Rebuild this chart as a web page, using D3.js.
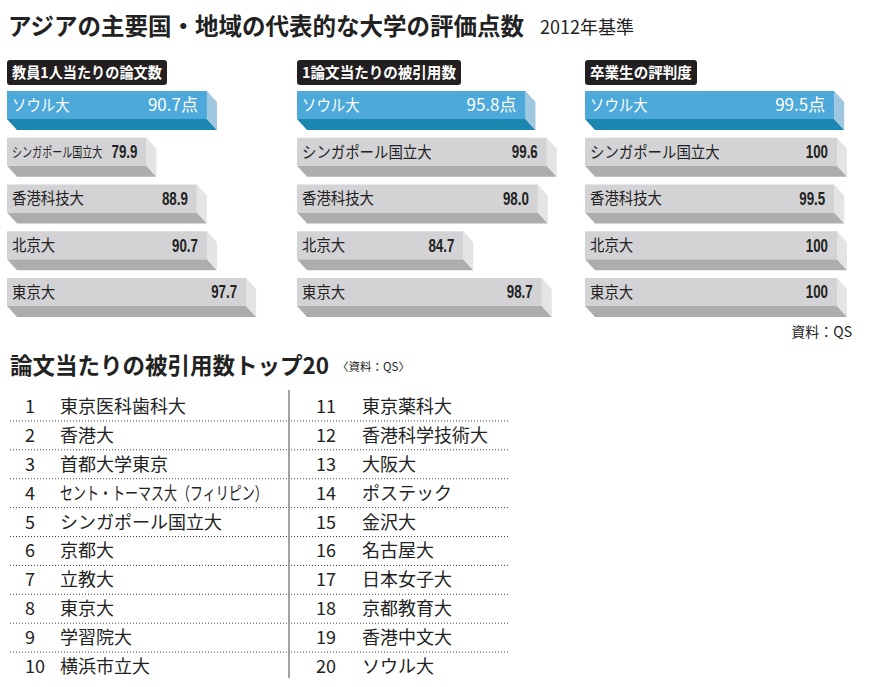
<!DOCTYPE html>
<html>
<head>
<meta charset="utf-8">
<script src="https://cdn.jsdelivr.net/npm/d3@7"></script>
<style>
  body { margin: 0; background: #fff; }
  svg { display: block; }
  text { font-family: "Noto Sans CJK JP", "Noto Sans", sans-serif; }
</style>
</head>
<body>
<svg id="chart" width="870" height="687"></svg>
<script>
// data
var universities = ['ソウル大', 'シンガポール国立大', '香港科技大', '北京大', '東京大'];
var papersPerFaculty = [90.7, 79.9, 88.9, 90.7, 97.7];
var citationsPerPaper = [95.8, 99.6, 98.0, 84.7, 98.7];
var employerReputation = [99.5, 100, 99.5, 100, 100];
var panelTitles = ['教員1人当たりの論文数', '1論文当たりの被引用数', '卒業生の評判度'];

var top20Ranks = [1, 2, 3, 4, 5, 6, 7, 8, 9, 10, 11, 12, 13, 14, 15, 16, 17, 18, 19, 20];
var top20Names = ['東京医科歯科大', '香港大', '首都大学東京', 'セント・トーマス大（フィリピン）', 'シンガポール国立大',
    '京都大', '立教大', '東京大', '学習院大', '横浜市立大',
    '東京薬科大', '香港科学技術大', '大阪大', 'ポステック', '金沢大',
    '名古屋大', '日本女子大', '京都教育大', '香港中文大', 'ソウル大'];

var svg = d3.select('#chart');

// squeeze a text horizontally around its anchor point
function place(sel, px, py, sx) {
    sel.attr('x', 0).attr('y', 0)
        .attr('transform', 'translate(' + px + ',' + py + ')' + (sx && sx !== 1 ? ' scale(' + sx + ',1)' : ''));
    return sel;
}

// titles
svg.append('text')
    .attr('x', 8).attr('y', 35)
    .attr('font-size', 23.5).attr('font-weight', 'bold').attr('fill', '#222')
    .text('アジアの主要国・地域の代表的な大学の評価点数');
svg.append('text')
    .attr('x', 540).attr('y', 34)
    .attr('font-size', 18).attr('fill', '#222')
    .text('2012年基準');

var x = d3.scaleLinear().domain([55, 100]).range([0, 252]);
var y = d3.scaleBand().domain(universities).range([91, 306]).paddingInner(0.4).paddingOuter(0);
var dx = 10, dy = 11;

var panels = [
    {x0: 7, title: panelTitles[0], boxW: 160, values: papersPerFaculty},
    {x0: 297, title: panelTitles[1], boxW: 164, values: citationsPerPaper},
    {x0: 585, title: panelTitles[2], boxW: 112, values: employerReputation}
];

function fmt(v) {
    return v === 100 ? '100' : v.toFixed(1);
}

panels.forEach(function (p) {
    var g = svg.append('g').attr('transform', 'translate(' + p.x0 + ',0)');

    g.append('rect')
        .attr('x', 0).attr('y', 60)
        .attr('width', p.boxW).attr('height', 25)
        .attr('rx', 3)
        .style('fill', '#231f20');
    var tt = g.append('text')
        .attr('font-size', 15).attr('font-weight', 'bold').attr('fill', '#fff')
        .text(p.title);
    place(tt, 5, 78, (p.boxW - 10) / tt.node().getComputedTextLength());

    universities.forEach(function (u, i) {
        var v = p.values[i];
        var w = x(v);
        var top = y(u);
        var h = y.bandwidth();
        var first = i === 0;
        var bar = g.append('g');

        // bottom face
        bar.append('polygon')
            .attr('points', [[0, top + h], [w, top + h], [w + dx, top + h + dy], [dx, top + h + dy]].join(' '))
            .style('fill', first ? '#1b87b0' : '#adadb0');
        // right face
        bar.append('polygon')
            .attr('points', [[w, top], [w + dx, top + dy], [w + dx, top + h + dy], [w, top + h]].join(' '))
            .style('fill', first ? '#9fc7e0' : '#e4e4e6');
        // front face
        bar.append('rect')
            .attr('x', 0).attr('y', top)
            .attr('width', w).attr('height', h)
            .style('fill', first ? '#4ca9d9' : '#d3d3d5');

        var val = bar.append('text')
            .attr('dy', '0.36em')
            .attr('text-anchor', 'end')
            .attr('fill', first ? '#fff' : '#222')
            .text(first ? fmt(v) + '点' : fmt(v));
        var vw;
        if (first) {
            val.attr('font-size', 17);
            place(val, w - 9, top + h / 2, 1);
            vw = val.node().getComputedTextLength();
        } else {
            val.attr('font-size', 18).attr('font-weight', 'bold')
                .style('font-family', '"Liberation Sans", sans-serif');
            place(val, w - 9, top + h / 2, 0.74);
            vw = val.node().getComputedTextLength() * 0.74;
        }

        var lab = bar.append('text')
            .attr('dy', '0.36em')
            .attr('font-size', 16)
            .attr('fill', first ? '#fff' : '#222')
            .text(u);
        var room = w - 9 - vw - 9 - 5;
        var sx = 0.9;
        if (lab.node().getComputedTextLength() * sx > room) {
            lab.attr('font-size', 14);
            sx = Math.min(0.9, room / lab.node().getComputedTextLength());
        }
        place(lab, 5, top + h / 2, sx);
    });
});

svg.append('text')
    .attr('x', 852).attr('y', 337)
    .attr('text-anchor', 'end')
    .attr('font-size', 14).attr('fill', '#222')
    .text('資料：QS');

// second section
svg.append('text')
    .attr('x', 10).attr('y', 374)
    .attr('font-size', 22.5).attr('font-weight', 'bold').attr('fill', '#222')
    .text('論文当たりの被引用数トップ20');
svg.append('text')
    .attr('x', 337).attr('y', 371)
    .attr('font-size', 11.5).attr('fill', '#222')
    .text('〈資料：QS〉');

var row = d3.scaleBand().domain(d3.range(10)).range([392, 681]);

var cols = [
    {numX: 25, nameX: 60, lineX1: 10, lineX2: 287},
    {numX: 316, nameX: 362, lineX1: 291, lineX2: 509}
];

cols.forEach(function (c, ci) {
    var g = svg.append('g');
    d3.range(10).forEach(function (r) {
        var k = ci * 10 + r;
        var cy = row(r) + row.bandwidth() / 2;
        g.append('text')
            .attr('x', c.numX).attr('y', cy).attr('dy', '0.36em')
            .attr('font-size', 18).attr('fill', '#222')
            .text(top20Ranks[k]);
        var nm = g.append('text')
            .attr('dy', '0.36em')
            .attr('font-size', 18).attr('fill', '#222')
            .text(top20Names[k]);
        // long names are set condensed in the original
        var nw = nm.node().getComputedTextLength();
        place(nm, c.nameX, cy, nw > 215 ? 208 / nw : 1);
        if (r < 9) {
            var ly = row(r) + row.bandwidth();
            g.append('line')
                .attr('x1', c.lineX1).attr('x2', c.lineX2)
                .attr('y1', ly).attr('y2', ly)
                .style('stroke', '#444')
                .style('stroke-width', 1)
                .style('stroke-dasharray', '1,2');
        }
    });
});

svg.append('line')
    .attr('x1', 289).attr('x2', 289)
    .attr('y1', 390).attr('y2', 678)
    .style('stroke', '#444')
    .style('stroke-width', 1);
</script>
</body>
</html>
